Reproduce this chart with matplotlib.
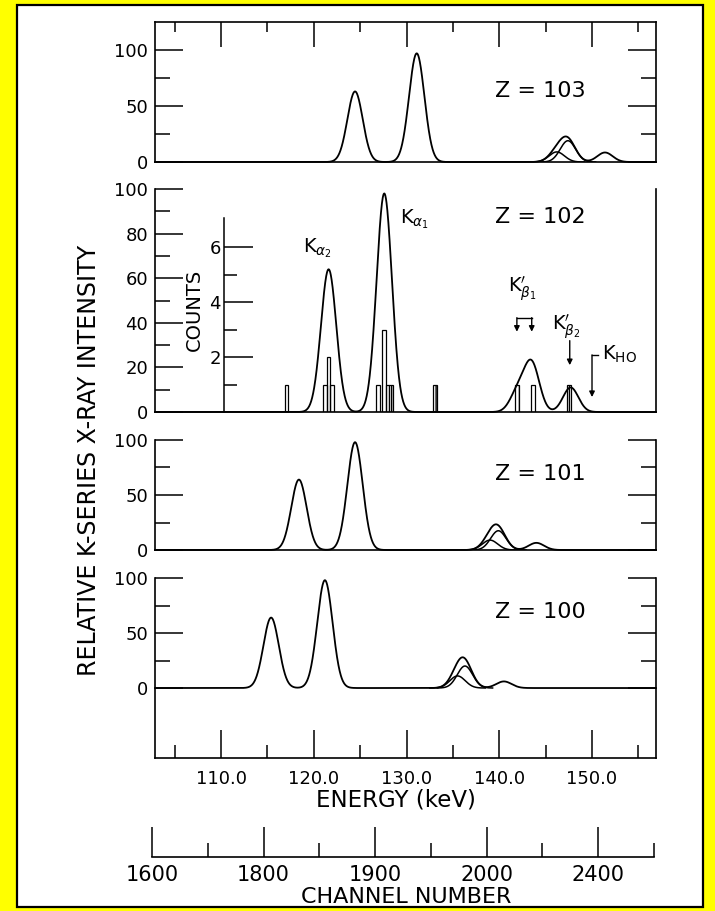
import numpy as np
import matplotlib
matplotlib.use("Agg")
import matplotlib.pyplot as plt
from matplotlib.patches import Rectangle
from matplotlib.ticker import FixedLocator, MultipleLocator, NullFormatter

plt.rcParams['font.family'] = ['DejaVu Sans']
plt.rcParams['mathtext.fontset'] = 'dejavusans'

# calculated K-series lines (energy keV, relative intensity)
panel_z = [103, 102, 101, 100]
ka2_energy = [124.45, 121.6, 118.4, 115.4]
ka2_height = [63, 64, 64, 64]
ka1_energy = [131.1, 127.6, 124.45, 121.2]
ka1_height = [97, 98, 98, 98]
kb3_energy = [146.2, 142.0, 139.0, 135.5]
kb3_height = [9, 9, 9, 11]
kb1_energy = [147.4, 143.5, 139.9, 136.3]
kb1_height = [19, 21.5, 17.5, 20]
kb2_energy = [151.4, 147.7, 144.0, 140.5]
kb2_height = [8.5, 11, 6.5, 6]
line_fwhm = 1.95

# measured counts for Z = 102
count_energy = [117.05, 121.2, 121.6, 122.0, 126.9, 127.55, 127.95, 128.35, 133.1, 141.9, 143.65, 147.55]
count_value = [1, 1, 2, 1, 1, 3, 1, 1, 1, 1, 1, 1]
count_hatched = [False, False, False, False, False, False, True, True, True, True, True, True]
count_width = 0.4

energy_ticks = [110, 120, 130, 140, 150]
energy_labels = ['110.0', '120.0', '130.0', '140.0', '150.0']
channel_ticks = [1600, 1700, 1800, 1900, 2000]
channel_labels = ['1600', '1800', '1900', '2000', '2400']

W, H = 715, 911
xmin, xmax = 102.88, 156.9


def box(left, top, right, bottom):
    return [left / W, 1 - bottom / H, (right - left) / W, (bottom - top) / H]


sigma = line_fwhm / 2.3548


def peak(x, center, height):
    return height * np.exp(-0.5 * ((x - center) / sigma) ** 2)


fig = plt.figure(figsize=(W / 100, H / 100), dpi=100)
fig.patch.set_facecolor('#ffff00')
frame = Rectangle((17 / W, 1 - 907 / H), (703 - 17) / W, (907 - 5) / H,
                  transform=fig.transFigure, facecolor='white',
                  edgecolor='black', lw=1.6, zorder=-10)
fig.add_artist(frame)

boxes = [box(155, 22, 656, 162), box(155, 189, 656, 412),
         box(155, 440, 656, 550), box(155, 578, 656, 758)]
ylims = [(0, 125), (0, 100), (0, 100), (-63.6, 100)]
z_text_y = [58, 84.8, 63.6, 63.6]

energy = np.linspace(xmin, xmax, 2500)
axes = []
for i, z in enumerate(panel_z):
    ax = fig.add_axes(boxes[i])
    ax.patch.set_alpha(0)
    ax.set_xlim(xmin, xmax)
    ax.set_ylim(*ylims[i])
    for s in ax.spines.values():
        s.set_linewidth(1.2)
    if i > 0:
        ax.spines['top'].set_visible(False)

    total = (peak(energy, ka2_energy[i], ka2_height[i]) + peak(energy, ka1_energy[i], ka1_height[i])
             + peak(energy, kb3_energy[i], kb3_height[i]) + peak(energy, kb1_energy[i], kb1_height[i])
             + peak(energy, kb2_energy[i], kb2_height[i]))
    ax.plot(energy, total, color='black', lw=1.3, clip_on=False)
    if z != 102:
        for c, h in [(kb3_energy[i], kb3_height[i]), (kb1_energy[i], kb1_height[i])]:
            xs = energy[np.abs(energy - c) < 3.0]
            ax.plot(xs, peak(xs, c, h), color='black', lw=1.1)

    if z == 102:
        ax.yaxis.set_major_locator(MultipleLocator(20))
        ax.yaxis.set_minor_locator(FixedLocator([10, 30, 50, 70, 90]))
    else:
        ax.yaxis.set_major_locator(FixedLocator([0, 50, 100]))
        ax.yaxis.set_minor_locator(FixedLocator([25, 75]))
    ax.tick_params(axis='y', which='both', direction='in', left=True, right=True,
                   width=1.1, labelsize=13, pad=5)
    ax.tick_params(axis='y', which='major', length=20)
    ax.tick_params(axis='y', which='minor', length=11)

    ax.xaxis.set_major_locator(FixedLocator(energy_ticks))
    ax.xaxis.set_minor_locator(MultipleLocator(5))
    if i == 0:
        ax.tick_params(axis='x', which='both', direction='in', top=True, bottom=False,
                       labelbottom=False, labeltop=False, width=1.1)
        ax.tick_params(axis='x', which='major', length=18)
        ax.tick_params(axis='x', which='minor', length=7.5)
    elif i == 3:
        ax.xaxis.set_major_formatter(plt.FixedFormatter(energy_labels))
        ax.xaxis.set_minor_formatter(NullFormatter())
        ax.tick_params(axis='x', which='both', direction='in', top=False, bottom=True,
                       width=1.1, labelsize=13, pad=8.5)
        ax.tick_params(axis='x', which='major', length=20)
        ax.tick_params(axis='x', which='minor', length=9.5)
    else:
        ax.tick_params(axis='x', which='both', top=False, bottom=False, labelbottom=False)

    ax.text(139.5, z_text_y[i], f'Z = {z}', fontsize=16, ha='left', va='baseline')
    axes.append(ax)

# Z = 102 panel: counts histogram, its own small scale and line labels
ax102 = axes[1]
axc = ax102.twinx()
axc.set_ylim(0, 223 / 27.5)
for name in ['top', 'right', 'bottom']:
    axc.spines[name].set_visible(False)
axc.spines['left'].set_visible(True)
axc.spines['left'].set_position(('data', 110.3))
axc.spines['left'].set_bounds(0, 7.05)
axc.spines['left'].set_linewidth(1.1)
axc.yaxis.set_ticks_position('left')
axc.yaxis.set_major_locator(FixedLocator([2, 4, 6]))
axc.yaxis.set_minor_locator(FixedLocator([1, 3, 5]))
axc.tick_params(axis='y', which='both', direction='in', width=1.1, labelsize=13, pad=2)
axc.tick_params(axis='y', which='major', length=21)
axc.tick_params(axis='y', which='minor', length=9.5)
for e, c, hat in zip(count_energy, count_value, count_hatched):
    axc.bar(e, c, width=count_width, facecolor='none', edgecolor='black', lw=0.9,
            hatch='|||' if hat else None)
axc.text(107.1, 3.7, 'COUNTS', rotation=90, fontsize=14, ha='center', va='center')

ax102.text(118.8, 71.7, r'K$_{\alpha_2}$', fontsize=14, ha='left', va='baseline')
ax102.text(129.3, 84.8, r'K$_{\alpha_1}$', fontsize=14, ha='left', va='baseline')
ax102.text(140.9, 53.8, r'K$_{\beta_1}^{\prime}$', fontsize=14, ha='left', va='baseline')
ax102.text(145.7, 36.8, r'K$_{\beta_2}^{\prime}$', fontsize=14, ha='left', va='baseline')
ax102.text(151.1, 23.3, r'K$_{\rm HO}$', fontsize=14, ha='left', va='baseline')

arrow = dict(arrowstyle='-|>', color='black', lw=1.0, mutation_scale=8, shrinkA=0, shrinkB=0)
ax102.plot([141.9, 143.5], [42, 42], color='black', lw=1.0)
for xa in [141.9, 143.5]:
    ax102.annotate('', xy=(xa, 36.0), xytext=(xa, 42.3), arrowprops=arrow)
ax102.annotate('', xy=(147.6, 21.0), xytext=(147.6, 32.0), arrowprops=arrow)
ax102.plot([150.0, 150.6], [25.6, 25.6], color='black', lw=1.0)
ax102.annotate('', xy=(150.0, 6.7), xytext=(150.0, 25.6), arrowprops=arrow)

# channel number scale
axch = fig.add_axes(box(152, 856, 654, 857))
axch.patch.set_alpha(0)
axch.set_xlim(1600, 2050)
axch.set_yticks([])
for name in ['top', 'left', 'right']:
    axch.spines[name].set_visible(False)
axch.spines['bottom'].set_linewidth(1.2)
axch.xaxis.set_major_locator(FixedLocator(channel_ticks))
axch.xaxis.set_major_formatter(plt.FixedFormatter(channel_labels))
axch.xaxis.set_minor_locator(FixedLocator([1650, 1750, 1850, 1950, 2050]))
axch.tick_params(axis='x', which='both', direction='in', width=1.1, labelsize=15, pad=6)
axch.tick_params(axis='x', which='major', length=21.5)
axch.tick_params(axis='x', which='minor', length=10)

fig.text(89 / W, 1 - 460 / H, 'RELATIVE K-SERIES X-RAY INTENSITY', rotation=90,
         ha='center', va='center', fontsize=17)
fig.text(396 / W, 1 - 800 / H, 'ENERGY (keV)', ha='center', va='center', fontsize=16.5)
fig.text(406 / W, 1 - 897 / H, 'CHANNEL NUMBER', ha='center', va='center', fontsize=16)

fig.savefig('out.png', dpi=100, facecolor=fig.get_facecolor())
